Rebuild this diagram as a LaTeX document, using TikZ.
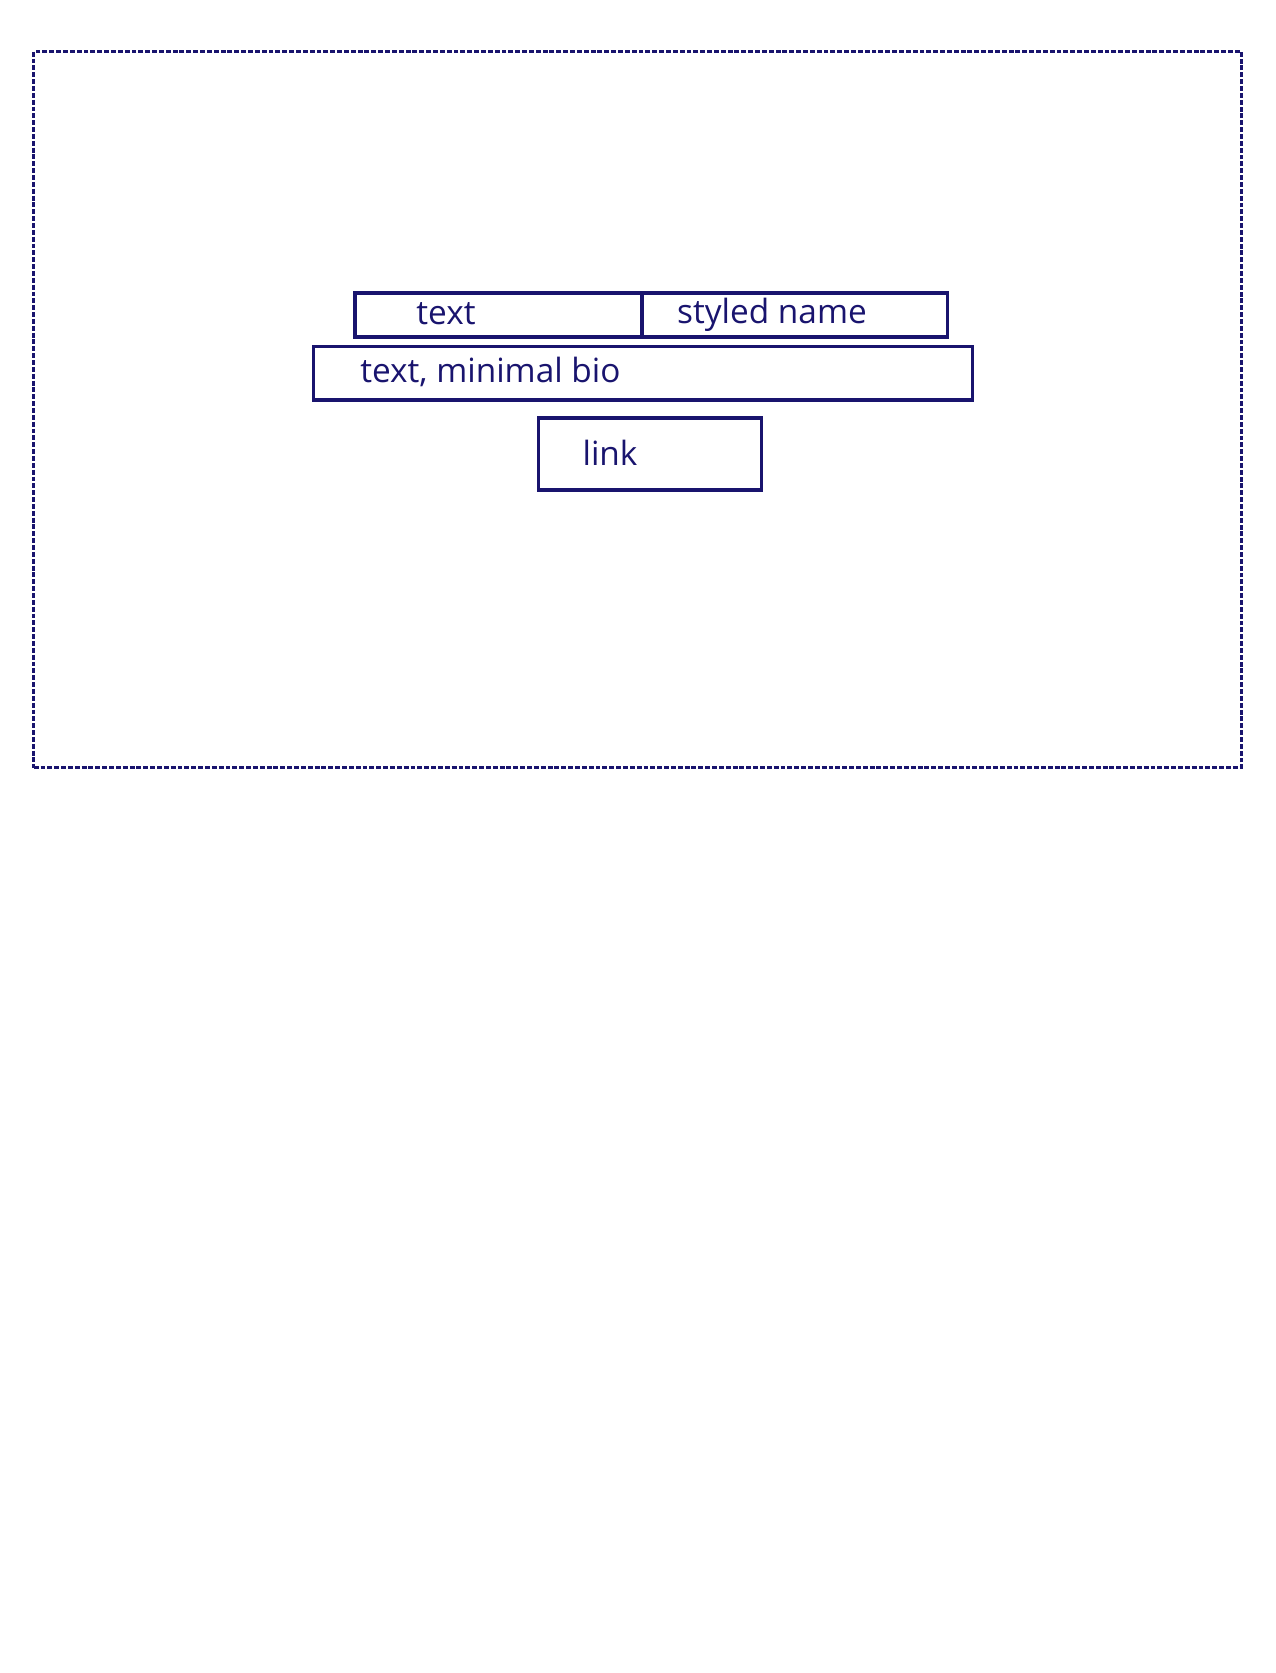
\documentclass[tikz,border=0pt]{standalone}
\usepackage{fontspec}
\setmainfont{Open Sans}
\definecolor{ink}{RGB}{25,20,110}
\begin{document}
\begin{tikzpicture}[x=0.02cm,y=-0.02cm,
    box/.style={draw=ink,line width=2pt,rectangle,inner sep=0pt,anchor=north west},
    lbl/.style={text=ink,inner sep=0pt,font=\fontsize{19}{22}\selectfont}]
    \useasboundingbox (0,0) rectangle (1275,1673);

    % Outer frame
    \node[draw=ink,line width=1.9pt,dash pattern=on 2.8pt off 1.1pt,rectangle,inner sep=0pt,
          anchor=north west,minimum width=24.16cm,minimum height=14.32cm] (frame) at (32,50) {};

    % Top row
    \node[box,minimum width=5.74cm,minimum height=0.88cm]  (textbox) at (353,291) {};
    \node[box,minimum width=6.12cm,minimum height=0.88cm]  (namebox) at (640,291) {};
    \node[lbl] (textlbl) at (446,314) {text};
    \node[lbl] (namelbl) at (772,315) {styled name};

    % Bio row
    \node[box,minimum width=13.19cm,minimum height=1.07cm] (biobox) at (311.5,344.6) {};
    \node[lbl,anchor=west] (biolbl) at (360,372) {text, minimal bio};

    % Link
    \node[box,minimum width=4.46cm,minimum height=1.45cm]  (linkbox) at (536.7,416) {};
    \node[lbl] (linklbl) at (610,453) {link};
\end{tikzpicture}
\end{document}
